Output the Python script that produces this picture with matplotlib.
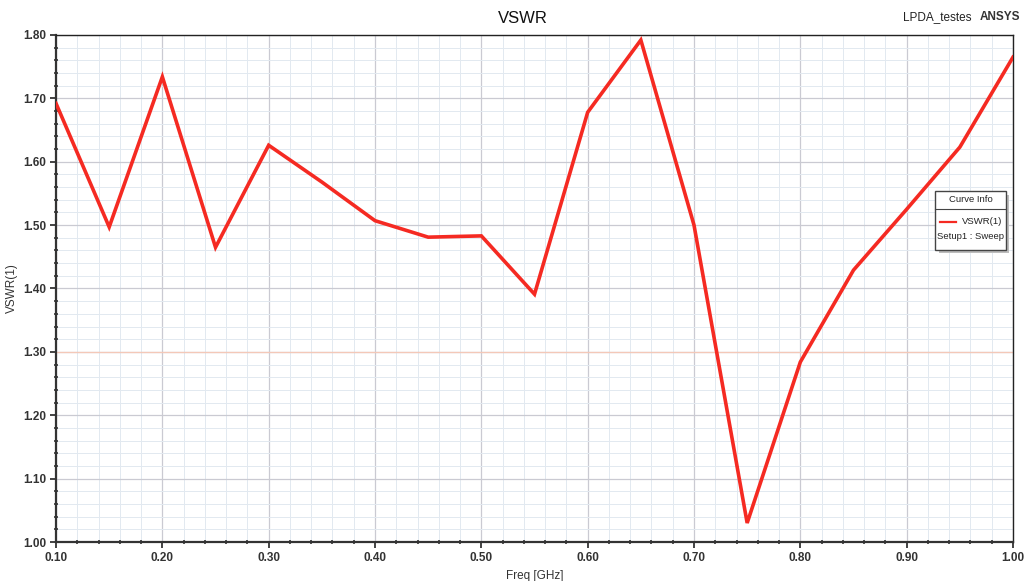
import matplotlib
matplotlib.use("Agg")
import matplotlib.pyplot as plt
from matplotlib.ticker import MultipleLocator, FormatStrFormatter
from matplotlib.lines import Line2D
from matplotlib.patches import Rectangle

# VSWR sweep
freq = [0.10, 0.15, 0.20, 0.25, 0.30, 0.35, 0.40, 0.45, 0.50, 0.55,
        0.60, 0.65, 0.70, 0.75, 0.80, 0.85, 0.90, 0.95, 1.00]
vswr = [1.692, 1.497, 1.734, 1.465, 1.626, 1.568, 1.507, 1.481, 1.483, 1.391,
        1.678, 1.792, 1.500, 1.030, 1.284, 1.429, 1.525, 1.623, 1.765]

plt.rcParams["font.family"] = ["Liberation Sans", "DejaVu Sans"]

fig = plt.figure(figsize=(10.28, 5.81), dpi=100)
ax = fig.add_axes([0.0545, 0.0671, 0.9309, 0.8727])

ax.set_xlim(0.10, 1.00)
ax.set_ylim(1.00, 1.80)
ax.xaxis.set_major_locator(MultipleLocator(0.10))
ax.xaxis.set_minor_locator(MultipleLocator(0.02))
ax.yaxis.set_major_locator(MultipleLocator(0.10))
ax.yaxis.set_minor_locator(MultipleLocator(0.02))
ax.xaxis.set_major_formatter(FormatStrFormatter("%.2f"))
ax.yaxis.set_major_formatter(FormatStrFormatter("%.2f"))

ax.grid(which="major", color="#cacad2", linewidth=0.9)
ax.grid(which="minor", color="#e2e9f0", linewidth=0.7)
ax.axhline(1.30, color="#f4c8b8", linewidth=0.9, zorder=1)
ax.set_axisbelow(True)

ax.plot(freq, vswr, color="#f52a22", linewidth=2.6, solid_joinstyle="miter", zorder=3)

ax.tick_params(which="major", direction="out", length=4, width=1.2,
               labelsize=8.5, colors="#222222", pad=3)
ax.tick_params(which="minor", direction="inout", length=3, width=1.1, colors="#222222")
for lab in ax.get_xticklabels() + ax.get_yticklabels():
    lab.set_fontweight("bold")
    lab.set_color("#333333")
for s in ["left", "bottom"]:
    ax.spines[s].set_linewidth(1.6)
    ax.spines[s].set_color("#333333")
for s in ["top", "right"]:
    ax.spines[s].set_linewidth(1.0)
    ax.spines[s].set_color("#222222")

ax.set_xlabel("Freq [GHz]", fontsize=8.5, color="#333333")
ax.set_ylabel("VSWR(1)", fontsize=8.5, color="#333333")
ax.xaxis.set_label_coords(0.5, -0.055)
ax.yaxis.set_label_coords(-0.040, 0.5)

fig.text(0.509, 0.968, "VSWR", ha="center", va="center", fontsize=12, color="#111111")
fig.text(0.945, 0.966, "LPDA_testes", ha="right", va="baseline", fontsize=8.5, color="#222222")
fig.text(0.992, 0.966, "ANSYS", ha="right", va="baseline", fontsize=8.5,
         fontweight="bold", color="#333333")

# Curve Info box
bx, by, bw, bh = 0.910, 0.570, 0.069, 0.101
fig.patches.append(Rectangle((bx + 0.003, by - 0.006), bw, bh, transform=fig.transFigure,
                             facecolor="#bdbdbd", edgecolor="none", zorder=5))
fig.patches.append(Rectangle((bx, by), bw, bh, transform=fig.transFigure,
                             facecolor="white", edgecolor="#444444", linewidth=1.0, zorder=6))
fig.lines.append(Line2D([bx, bx + bw], [by + bh * 0.70, by + bh * 0.70],
                        transform=fig.transFigure, color="#444444", linewidth=0.8, zorder=7))
fig.text(bx + bw / 2, by + bh * 0.85, "Curve Info", ha="center", va="center",
         fontsize=6.8, color="#222222", zorder=8)
fig.lines.append(Line2D([bx + 0.004, bx + 0.020], [by + bh * 0.48, by + bh * 0.48],
                        transform=fig.transFigure, color="#f52a22", linewidth=1.6, zorder=7))
fig.text(bx + bw - 0.004, by + bh * 0.48, "VSWR(1)", ha="right", va="center",
         fontsize=6.8, color="#222222", zorder=8)
fig.text(bx + bw / 2, by + bh * 0.22, "Setup1 : Sweep", ha="center", va="center",
         fontsize=6.8, color="#222222", zorder=8)

fig.savefig("out.png", dpi=100)
